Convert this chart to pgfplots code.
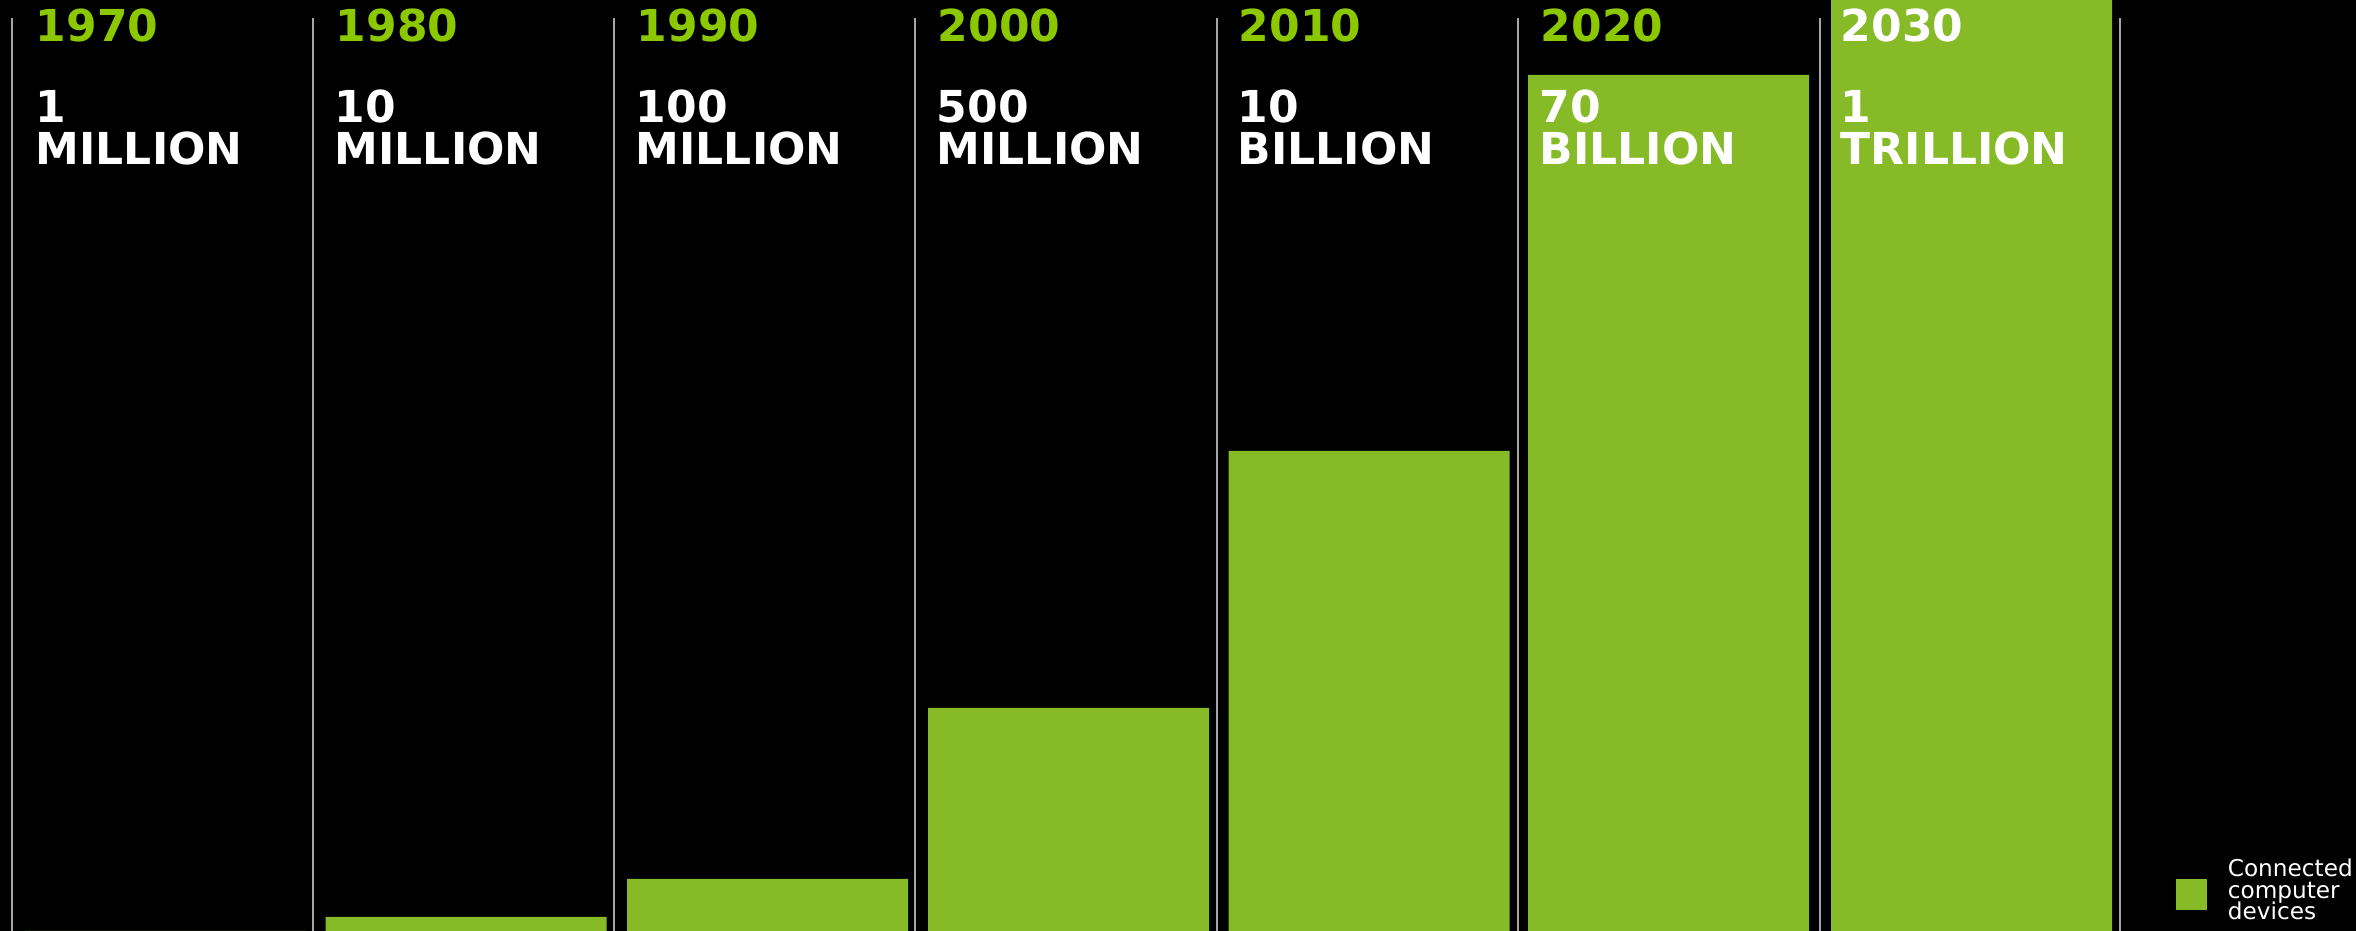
\documentclass[border=0pt]{standalone}
\usepackage{pgfplots}
\pgfplotsset{compat=1.18}
\usepackage{fontspec}
\setmainfont{DejaVu Sans}
\definecolor{bargreen}{HTML}{86BB27}
\definecolor{yeargreen}{HTML}{8CC800}
\definecolor{sepgray}{HTML}{A6A6A6}
\newcommand{\bigf}{\fontsize{11}{12}\selectfont\bfseries}
\newcommand{\legf}{\fontsize{5.8}{6}\selectfont}
\begin{document}
\begin{tikzpicture}
\begin{axis}[
  scale only axis, width=589pt, height=232.75pt,
  xmin=0, xmax=2356, ymin=0, ymax=931,
  axis line style={draw=none}, ticks=none,
  axis background/.style={fill=black},
  clip=false,
  ybar, bar width=281, bar shift=0pt,
]
% separators
\foreach \xx in {12,313,614,915,1217,1518,1820,2120}{
  \edef\tmp{\noexpand\draw[sepgray, line width=0.5pt] (axis cs:\xx,0) -- (axis cs:\xx,913);}\tmp
}
\addplot[fill=bargreen, draw=none] coordinates {(165,0) (466,14) (767.5,52) (1068.5,223) (1369,480) (1668.5,856) (1971.5,931)};
% years
\node[anchor=base west, inner sep=0, text=yeargreen, font=\bigf] at (axis cs:35,889) {1970};
\node[anchor=base west, inner sep=0, text=yeargreen, font=\bigf] at (axis cs:335,889) {1980};
\node[anchor=base west, inner sep=0, text=yeargreen, font=\bigf] at (axis cs:636,889) {1990};
\node[anchor=base west, inner sep=0, text=yeargreen, font=\bigf] at (axis cs:937,889) {2000};
\node[anchor=base west, inner sep=0, text=yeargreen, font=\bigf] at (axis cs:1238,889) {2010};
\node[anchor=base west, inner sep=0, text=yeargreen, font=\bigf] at (axis cs:1540,889) {2020};
\node[anchor=base west, inner sep=0, text=white, font=\bigf] at (axis cs:1840,889) {2030};
% values
\node[anchor=base west, inner sep=0, text=white, font=\bigf] at (axis cs:35,808) {1};
\node[anchor=base west, inner sep=0, text=white, font=\bigf] at (axis cs:35,766) {MILLION};
\node[anchor=base west, inner sep=0, text=white, font=\bigf] at (axis cs:334,808) {10};
\node[anchor=base west, inner sep=0, text=white, font=\bigf] at (axis cs:334,766) {MILLION};
\node[anchor=base west, inner sep=0, text=white, font=\bigf] at (axis cs:635,808) {100};
\node[anchor=base west, inner sep=0, text=white, font=\bigf] at (axis cs:635,766) {MILLION};
\node[anchor=base west, inner sep=0, text=white, font=\bigf] at (axis cs:936,808) {500};
\node[anchor=base west, inner sep=0, text=white, font=\bigf] at (axis cs:936,766) {MILLION};
\node[anchor=base west, inner sep=0, text=white, font=\bigf] at (axis cs:1237,808) {10};
\node[anchor=base west, inner sep=0, text=white, font=\bigf] at (axis cs:1237,766) {BILLION};
\node[anchor=base west, inner sep=0, text=white, font=\bigf] at (axis cs:1539,808) {70};
\node[anchor=base west, inner sep=0, text=white, font=\bigf] at (axis cs:1539,766) {BILLION};
\node[anchor=base west, inner sep=0, text=white, font=\bigf] at (axis cs:1840,808) {1};
\node[anchor=base west, inner sep=0, text=white, font=\bigf] at (axis cs:1840,766) {TRILLION};
% legend
\fill[bargreen] (axis cs:2176,21) rectangle (axis cs:2207,52);
\node[anchor=base west, inner sep=0, text=white, font=\legf] at (axis cs:2227,54) {Connected};
\node[anchor=base west, inner sep=0, text=white, font=\legf] at (axis cs:2227,32) {computer};
\node[anchor=base west, inner sep=0, text=white, font=\legf] at (axis cs:2227,11) {devices};
\end{axis}
\pgfresetboundingbox
\path[use as bounding box] (current axis.south west) rectangle (current axis.north east);
\end{tikzpicture}
\end{document}
